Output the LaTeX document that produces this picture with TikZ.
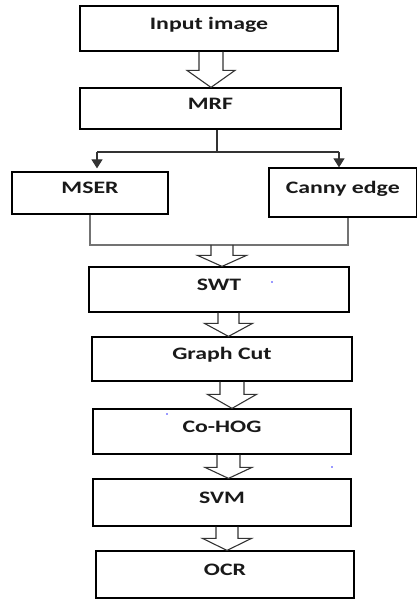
\documentclass[tikz,border=0pt]{standalone}
\usepackage{fontspec}
\setmainfont{Carlito}[FakeStretch=1.36]
\usetikzlibrary{arrows.meta,calc}
\tikzset{
  box/.style={draw=black,line width=1.2pt,rectangle,inner sep=0pt,
    text height=11.5pt,text depth=9.5pt,
    font=\fontsize{17.5}{20}\selectfont\bfseries,text=black!90},
  fatline/.style={draw=black!80,line width=1.1pt,line join=miter},
  thin/.style={draw=black!80,line width=1.1pt},
  greyline/.style={draw=black!55,line width=1.3pt},
  tip/.style={-{Triangle[length=9pt,width=11pt]}},
  speck/.style={fill=blue!80}
}
% #1 start point, #2 end point (node anchors), #3 x centre, #4 shaft half width, #5 head half width, #6 head length
\newcommand\fatarrow[6]{%
  \draw[fatline] let \p1=(#1), \p2=(#2) in
    (#3pt-#4pt,\y1) -- (#3pt-#4pt,\y2+#6pt) -- (#3pt-#5pt,\y2+#6pt) -- (#3pt,\y2)
    -- (#3pt+#5pt,\y2+#6pt) -- (#3pt+#4pt,\y2+#6pt) -- (#3pt+#4pt,\y1);}
\begin{document}
\begin{tikzpicture}[x=1pt,y=1pt]
\useasboundingbox (0,0) rectangle (417,599);
\node[box,minimum width=258pt,minimum height=45pt] (in) at (209,570.5) {Input image};
\node[box,minimum width=261pt,minimum height=41pt] (mrf) at (210.5,490.5) {MRF};
\node[box,minimum width=156pt,minimum height=42pt] (mser) at (90,406) {MSER};
\node[box,minimum width=147.5pt,minimum height=49pt] (canny) at (342.75,406.5) {Canny edge};
\node[box,minimum width=260pt,minimum height=45pt] (swt) at (219,309.5) {SWT};
\node[box,minimum width=260pt,minimum height=44pt] (gc) at (222,240) {Graph Cut};
\node[box,minimum width=258pt,minimum height=45pt] (cohog) at (222,167.5) {Co-HOG};
\node[box,minimum width=258pt,minimum height=47pt] (svm) at (222,96.5) {SVM};
\node[box,minimum width=258pt,minimum height=47pt] (ocr) at (225,24.5) {OCR};
% split after MRF
\coordinate (split) at (217,447);
\coordinate (splitL) at (97,447);
\coordinate (splitR) at (339,447);
\draw[thin] (split |- mrf.south) -- (split);
\draw[thin] (splitL) -- (splitR);
\draw[thin,tip] (splitL) -- ($(splitL |- mser.north)+(0,3)$);
\draw[thin,tip] (splitR) -- (splitR |- canny.north);
% merge before SWT
\coordinate (mergeL) at (90,354);
\coordinate (mergeR) at (348,354);
\coordinate (merge) at (222,354);
\draw[greyline] (mergeL |- mser.south) -- (mergeL) -- (mergeR) -- (mergeR |- canny.south);
% block arrows
\fatarrow{in.south}{mrf.north}{211}{12}{24}{17}
\fatarrow{merge}{swt.north}{222}{11}{24.5}{11}
\fatarrow{swt.south}{gc.north}{228.5}{10.5}{24}{13}
\fatarrow{gc.south}{cohog.north}{232}{12}{24.5}{14}
\fatarrow{cohog.south}{svm.north}{228.5}{11.5}{23.5}{11}
\fatarrow{svm.south}{ocr.north}{227}{11}{24.5}{12}
% specks
\fill[speck] (272,317) circle (0.8);
\fill[speck] (167,185) circle (0.8);
\fill[speck] (332,132) circle (0.8);
\end{tikzpicture}
\end{document}
